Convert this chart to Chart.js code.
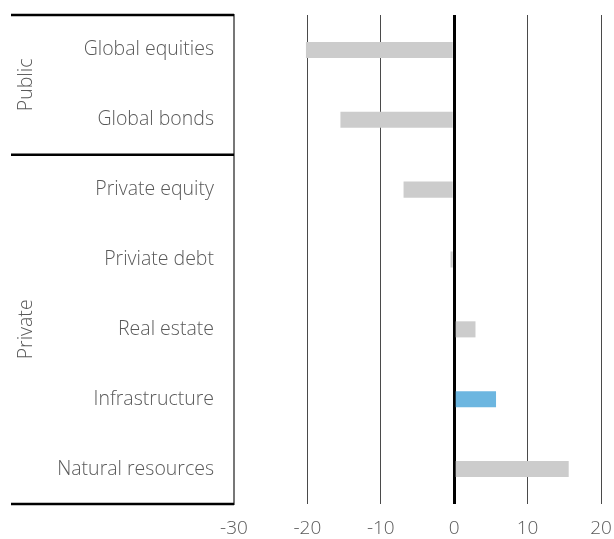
<!DOCTYPE html>
<html>
<head>
<meta charset="utf-8">
<script src="https://cdn.jsdelivr.net/npm/chart.js@4/dist/chart.umd.min.js"></script>
<style>
  html, body { margin: 0; padding: 0; background: #fff; }
  #wrap { width: 614px; height: 539px; }
</style>
</head>
<body>
<div id="wrap"><canvas id="c" width="614" height="539"></canvas></div>
<script>
const categories = ['Global equities', 'Global bonds', 'Private equity', 'Priviate debt', 'Real estate', 'Infrastructure', 'Natural resources'];
const values = [-20.2, -15.5, -6.9, -0.5, 2.9, 5.7, 15.6];
const highlighted = ['Infrastructure'];
const groupNames = ['Public', 'Private'];
const groupSizes = [2, 5];
const xTicks = [-30, -20, -10, 0, 10, 20];

const FONT = '"Open Sans", "Noto Sans", sans-serif';
const TEXT = '#595959';

const groupPlugin = {
  id: 'groups',
  afterDraw(chart) {
    const y = chart.scales.y;
    const ctx = chart.ctx;
    ctx.save();
    ctx.strokeStyle = '#000';
    ctx.lineWidth = 2.5;
    let start = 0;
    const bounds = [-0.5];
    groupSizes.forEach(n => { start += n; bounds.push(start - 0.5); });
    bounds.forEach(b => {
      const py = y.getPixelForValue(b);
      ctx.beginPath();
      ctx.moveTo(11, py);
      ctx.lineTo(y.right, py);
      ctx.stroke();
    });
    ctx.fillStyle = TEXT;
    ctx.font = '300 19.5px ' + FONT;
    ctx.textAlign = 'center';
    ctx.textBaseline = 'middle';
    for (let i = 0; i < groupNames.length; i++) {
      const top = y.getPixelForValue(bounds[i]);
      const bot = y.getPixelForValue(bounds[i + 1]);
      ctx.save();
      ctx.translate(26, (top + bot) / 2);
      ctx.rotate(-Math.PI / 2);
      ctx.fillText(groupNames[i], 0, 0);
      ctx.restore();
    }
    ctx.restore();
  }
};

new Chart(document.getElementById('c'), {
  type: 'bar',
  data: {
    labels: categories,
    datasets: [{
      data: values,
      backgroundColor: categories.map(c => highlighted.includes(c) ? '#6cb6e0' : '#cccccc'),
      borderWidth: 0,
      barPercentage: 0.23,
      categoryPercentage: 1
    }]
  },
  options: {
    indexAxis: 'y',
    responsive: false,
    animation: false,
    devicePixelRatio: 1,
    layout: { padding: { top: 0, right: 0, left: 0, bottom: 0 } },
    plugins: { legend: { display: false }, tooltip: { enabled: false } },
    scales: {
      x: {
        min: -30, max: 20,
        afterBuildTicks(scale) { scale.ticks = xTicks.map(v => ({ value: v })); },
        afterFit(scale) { scale.height = 35; scale.paddingLeft = 0; scale.paddingRight = 13; },
        border: { display: false },
        grid: {
          drawTicks: false,
          color: c => c.tick && c.tick.value === 0 ? '#000' : (c.tick && c.tick.value === -30 ? 'rgba(0,0,0,0)' : '#4a4a4a'),
          lineWidth: c => c.tick && c.tick.value === 0 ? 3 : 1
        },
        ticks: { color: TEXT, font: { family: FONT, size: 19, weight: 300 }, padding: 13 }
      },
      y: {
        afterFit(scale) { scale.width = 234; scale.paddingTop = 15; scale.paddingBottom = 0; },
        border: { display: true, color: '#777', width: 2 },
        grid: { display: false },
        ticks: { color: TEXT, font: { family: FONT, size: 19.5, weight: 300 }, padding: 12 }
      }
    }
  },
  plugins: [groupPlugin]
});
</script>
</body>
</html>
